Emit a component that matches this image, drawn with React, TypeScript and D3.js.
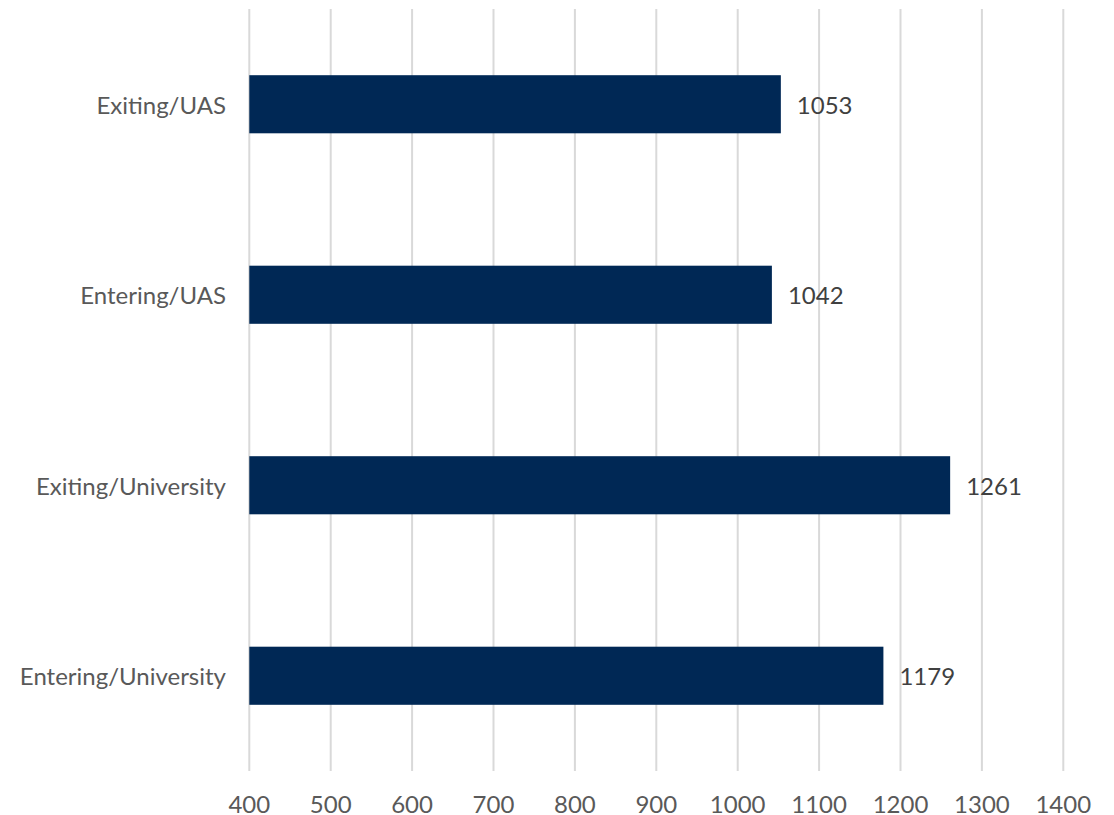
import React from "react";
import * as d3 from "d3";

const categories = ["Exiting/UAS", "Entering/UAS", "Exiting/University", "Entering/University"];
const values = [1053, 1042, 1261, 1179];
const xTicks = [400, 500, 600, 700, 800, 900, 1000, 1100, 1200, 1300, 1400];

const W = 1114;
const H = 815;
const left = 249.3;
const right = 1063.3;
const top = 9;
const bottom = 771;

export default function App() {
  const x = d3.scaleLinear().domain([400, 1400]).range([left, right]);
  const y = d3
    .scaleBand<string>()
    .domain(categories)
    .range([top, bottom])
    .paddingInner(0.695)
    .paddingOuter(0.3475);
  const font = "Lato, 'Open Sans', sans-serif";
  const textColor = "#595959";
  return (
    <svg
      width={W}
      height={H}
      style={{ position: "absolute", left: 0, top: 0, background: "#fff" }}
      fontFamily={font}
    >
      {xTicks.map((t) => (
        <g key={t}>
          <line x1={x(t)} x2={x(t)} y1={top} y2={bottom} stroke="#d9d9d9" strokeWidth={2} />
          <text x={x(t)} y={803} textAnchor="middle" dominantBaseline="central" fontSize={24} fill={textColor}>
            {t}
          </text>
        </g>
      ))}
      {categories.map((c, i) => {
        const yc = (y(c) as number) + y.bandwidth() / 2;
        return (
          <g key={c}>
            <rect
              x={x(400)}
              y={y(c) as number}
              width={x(values[i]) - x(400)}
              height={y.bandwidth()}
              fill="#002855"
            />
            <text x={226} y={yc} textAnchor="end" dominantBaseline="central" fontSize={24} fill={textColor}>
              {c}
            </text>
            <text x={x(values[i]) + 16} y={yc} dominantBaseline="central" fontSize={24} fill="#404040">
              {values[i]}
            </text>
          </g>
        );
      })}
    </svg>
  );
}
